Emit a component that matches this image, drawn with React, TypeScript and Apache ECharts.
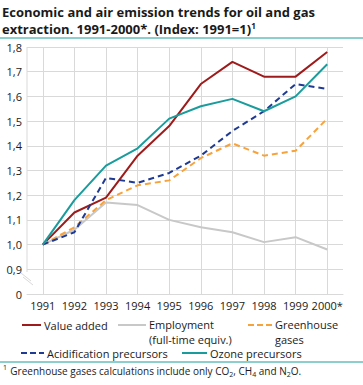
import React, { useEffect, useRef } from "react";
import * as echarts from "echarts";

const years = ["1991", "1992", "1993", "1994", "1995", "1996", "1997", "1998", "1999", "2000*"];
const valueAdded = [1.0, 1.13, 1.19, 1.36, 1.48, 1.65, 1.74, 1.68, 1.68, 1.78];
const employment = [1.0, 1.06, 1.17, 1.16, 1.1, 1.07, 1.05, 1.01, 1.03, 0.98];
const greenhouse = [1.0, 1.07, 1.18, 1.24, 1.26, 1.35, 1.41, 1.36, 1.38, 1.51];
const acidification = [1.0, 1.05, 1.27, 1.25, 1.29, 1.36, 1.46, 1.54, 1.65, 1.63];
const ozone = [1.0, 1.18, 1.32, 1.39, 1.51, 1.56, 1.59, 1.54, 1.6, 1.73];
const yTicks = ["0", "0,9", "1,0", "1,1", "1,2", "1,3", "1,4", "1,5", "1,6", "1,7", "1,8"];

const FONT = "'Open Sans', 'Noto Sans', sans-serif";
const C_RED = "#9e1b1b";
const C_GRAY = "#c8c8c8";
const C_ORANGE = "#f7a23b";
const C_BLUE = "#1f3a93";
const C_TEAL = "#1a9c9c";
const C_GRID = "#d9d9d9";

export default function App() {
  const ref = useRef<HTMLDivElement>(null);
  useEffect(() => {
    if (!ref.current) return;
    const chart = echarts.init(ref.current, null, { renderer: "svg" });
    const mk = (name: string, data: number[], color: string, dashed: boolean) => ({
      name,
      type: "line",
      data,
      symbol: "none",
      lineStyle: { color, width: 2, type: dashed ? [6, 4] : "solid" },
      z: 3,
    });
    const txt = (x: number, y: number, text: string) => ({
      type: "text",
      x,
      y,
      style: { text, font: `11px ${FONT}`, fill: "#1a1a1a", lineHeight: 12, textVerticalAlign: "middle" },
    });
    const legendItem = (x: number, y: number, len: number, color: string, dashed: boolean, lines: string[]) => [
      {
        type: "line",
        shape: { x1: x, y1: y, x2: x + len, y2: y },
        style: { stroke: color, lineWidth: 2, lineDash: dashed ? [6, 3] : null },
      },
      ...lines.map((l, i) => txt(x + len + 3, y - (lines.length > 1 ? 1 : 0) + i * 15, l)),
    ];
    chart.setOption({
      animation: false,
      grid: { left: 27, right: 20, top: 47, bottom: 91 },
      xAxis: {
        type: "category",
        data: years,
        boundaryGap: true,
        axisLine: { show: true, lineStyle: { color: C_GRID, width: 1 } },
        axisTick: { show: false },
        axisLabel: { color: "#1a1a1a", fontSize: 11, fontFamily: FONT, margin: 6, interval: 0 },
        splitLine: { show: true, alignWithLabel: true, lineStyle: { color: C_GRID, width: 1 } },
      },
      yAxis: {
        type: "value",
        min: 0.8,
        max: 1.8,
        interval: 0.1,
        axisLine: { show: false },
        axisTick: { show: false },
        axisLabel: {
          color: "#1a1a1a",
          fontSize: 11,
          fontFamily: FONT,
          margin: 5,
          formatter: (v: number) => yTicks[Math.round((v - 0.8) * 10)] ?? "",
        },
        splitLine: { show: true, lineStyle: { color: C_GRID, width: 1 } },
      },
      series: [
        mk("Value added", valueAdded, C_RED, false),
        mk("Employment", employment, C_GRAY, false),
        mk("Greenhouse gases", greenhouse, C_ORANGE, true),
        mk("Acidification precursors", acidification, C_BLUE, true),
        mk("Ozone precursors", ozone, C_TEAL, false),
      ],
      graphic: [
        {
          type: "text",
          x: 2,
          y: 12,
          style: {
            text: "Economic and air emission trends for oil and gas",
            font: `bold 13px ${FONT}`,
            fill: "#1a1a1a",
            textVerticalAlign: "middle",
          },
        },
        {
          type: "text",
          x: 2,
          y: 29,
          style: {
            text: "{t|extraction. 1991-2000*. (Index: 1991=1)}{s|1}",
            textVerticalAlign: "middle",
            rich: {
              t: { font: `bold 13px ${FONT}`, fill: "#1a1a1a", lineHeight: 16 },
              s: { font: `bold 8px ${FONT}`, fill: "#1a1a1a", lineHeight: 8, verticalAlign: "top" },
            },
          },
        },
        { type: "line", shape: { x1: 0, y1: 38, x2: 363, y2: 38 }, style: { stroke: C_TEAL, lineWidth: 1 } },
        { type: "line", shape: { x1: 27, y1: 47, x2: 27, y2: 272 }, style: { stroke: C_GRID, lineWidth: 1 } },
        { type: "line", shape: { x1: 21, y1: 273, x2: 31, y2: 281 }, style: { stroke: C_GRID, lineWidth: 1 } },
        { type: "line", shape: { x1: 23, y1: 277, x2: 33, y2: 285 }, style: { stroke: C_GRID, lineWidth: 1 } },
        ...legendItem(22, 325, 19, C_RED, false, ["Value added"]),
        ...legendItem(118, 325, 28, C_GRAY, false, ["Employment", "(full-time equiv.)"]),
        ...legendItem(248, 325, 24, C_ORANGE, true, ["Greenhouse", "gases"]),
        ...legendItem(21, 353, 23, C_BLUE, true, ["Acidification precursors"]),
        ...legendItem(182, 353, 25, C_TEAL, false, ["Ozone precursors"]),
        { type: "line", shape: { x1: 0, y1: 362, x2: 363, y2: 362 }, style: { stroke: C_TEAL, lineWidth: 1 } },
        {
          type: "text",
          x: 3,
          y: 364,
          style: {
            text: "{p|1} {n|Greenhouse gases calculations include only CO}{b|2}{n|, CH}{b|4}{n| and N}{b|2}{n|O.}",
            rich: {
              n: { font: `10px ${FONT}`, fill: "#1a1a1a", lineHeight: 14 },
              p: { font: `7px ${FONT}`, fill: "#1a1a1a", lineHeight: 7, verticalAlign: "top" },
              b: { font: `7px ${FONT}`, fill: "#1a1a1a", lineHeight: 7, verticalAlign: "bottom" },
            },
          },
        },
      ],
    });
    return () => chart.dispose();
  }, []);
  return <div ref={ref} style={{ width: 363, height: 385, position: "absolute", left: 0, top: 0 }} />;
}
